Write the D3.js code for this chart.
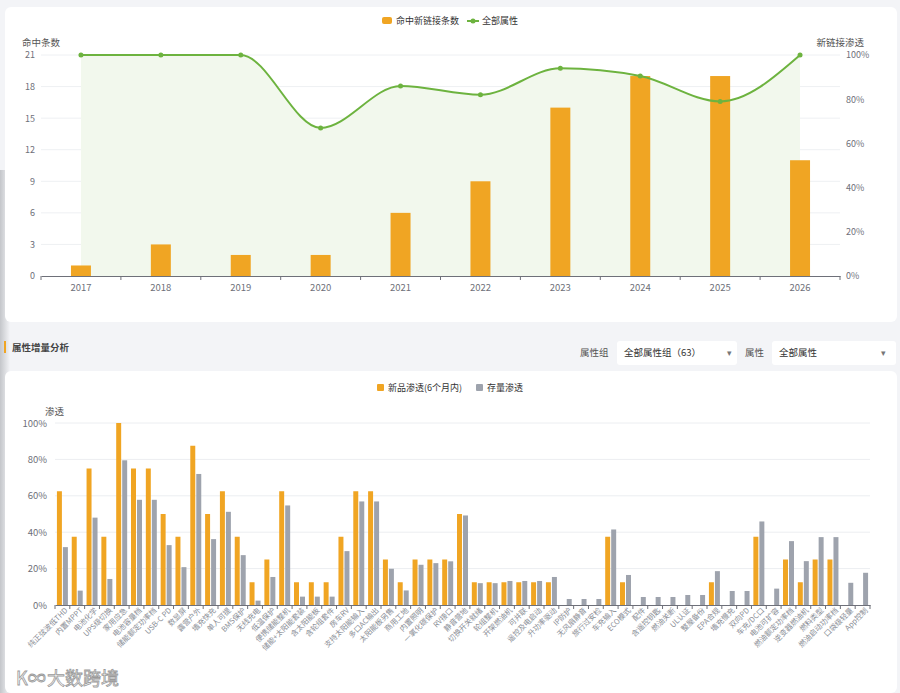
<!DOCTYPE html>
<html>
<head>
<meta charset="utf-8">
<script src="https://cdn.jsdelivr.net/npm/d3@7"></script>
<style>
body{margin:0;background:#f3f4f7;}
text{font-family:"Noto Sans CJK SC","Noto Sans",sans-serif;}
</style>
</head>
<body>
<div id="chart"></div>
<script>
var w=900;
var h=693;

// top chart data
var years=["2017","2018","2019","2020","2021","2022","2023","2024","2025","2026"];
var hitCounts=[1,3,2,2,6,9,16,19,19,11];
var linkShare=[100,100,100,67,86,82,94,90.5,79,100];
var countTicks=[0,3,6,9,12,15,18,21];
var shareTicks=[0,20,40,60,80,100];

// bottom chart data
var attrNames=["纯正弦波低THD","内置MPPT","电池化学","UPS级切换","家用应急","电池容量档","储能额定功率档","USB-C PD","数显屏","露营户外",
  "墙充快充","单人可提","BMS保护","无线充电","低温保护","便携储能整机","储能+太阳能套装","含太阳能板","含轮组套件","房车RV",
  "支持太阳能输入","多口AC输出","太阳能板另售","商用工地","内置照明","一氧化碳保护","RV接口","静音营地","切换开关就绪","轮组整机",
  "开架燃油机","可并联","遥控及电启动","升功率驱动","IP防护","无风扇静音","旅行过安检","车充输入","ECO模式","配件",
  "含遥控钥匙","燃油关断","UL认证","整屋备份","EPA合规","墙充慢充","双向PD","车充/DC口","电池可扩容","燃油额定功率档",
  "逆变器燃油机","燃料类型","燃油启动功率档","口袋级轻量","App控制"];
var newRate=[62.5,37.5,75,37.5,100,75,75,50,37.5,87.5,
  50,62.5,37.5,12.5,25,62.5,12.5,12.5,12.5,37.5,
  62.5,62.5,25,12.5,25,25,25,50,12.5,12.5,
  12.5,12.5,12.5,12.5,0,0,0,37.5,12.5,0,
  0,0,0,0,12.5,0,0,37.5,0,25,
  12.5,25,25,0,0];
var stockRate=[31.8,7.9,48,14.3,79.5,57.8,57.8,32.9,20.8,72,
  36.2,51.2,27.4,2.4,15.4,54.7,4.6,4.6,4.6,29.6,
  56.9,56.9,19.9,8,22.1,23,24,49.2,12,12,
  13.2,13.2,13.2,15.4,3.3,3.3,3.3,41.5,16.5,4.4,
  4.4,4.4,5.5,5.5,18.6,7.7,7.7,45.9,9,35.1,
  24.1,37.3,37.3,12.2,17.7];
var rateTicks=[0,20,40,60,80,100];

var orange="#f0a523";
var green="#6db33f";
var grey="#9ea3ad";
var axisCol="#6e7079";

var svg=d3.select("#chart")
  .append("svg")
  .attr("width",w)
  .attr("height",h);

var defs=svg.append("defs");
var shade=defs.append("linearGradient").attr("id","shade");
shade.append("stop").attr("offset","0").attr("stop-color","#c4c6ca");
shade.append("stop").attr("offset","1").attr("stop-color","#f3f4f7");

svg.append("rect").attr("width",w).attr("height",h).attr("fill","#f3f4f7");
svg.append("rect").attr("x",0).attr("y",170).attr("width",10).attr("height",523).attr("fill","url(#shade)");

// cards
svg.append("rect").attr("x",5).attr("y",7).attr("width",892).attr("height",315).attr("rx",6).attr("fill","#fff");
svg.append("rect").attr("x",5).attr("y",371).attr("width",892).attr("height",322).attr("rx",6).attr("fill","#fff");

//////////////////////////////////////////////// top chart
var x0=d3.scaleBand().domain(years).range([41,840]);
var yL=d3.scaleLinear().domain([0,21]).range([276,55]);
var yR=d3.scaleLinear().domain([0,100]).range([276,55]);
var topG=svg.append("g");

topG.selectAll(".grid")
  .data(countTicks.slice(1))
  .enter()
  .append("line")
  .attr("x1",41).attr("x2",840)
  .attr("y1",function(d){return yL(d);})
  .attr("y2",function(d){return yL(d);})
  .style("stroke","#eef0f3");

var cx=function(d,i){return x0(years[i])+x0.bandwidth()/2;};
var area=d3.area()
  .x(cx)
  .y0(yR(0))
  .y1(function(d){return yR(d);})
  .curve(d3.curveMonotoneX);
topG.append("path")
  .datum(linkShare)
  .attr("d",area)
  .attr("fill","#f2f8ed");

topG.selectAll(".bar")
  .data(hitCounts)
  .enter()
  .append("rect")
  .attr("x",function(d,i){return x0(years[i])+x0.bandwidth()*0.375;})
  .attr("width",x0.bandwidth()*0.25)
  .attr("y",function(d){return yL(d);})
  .attr("height",function(d){return yL(0)-yL(d);})
  .attr("fill",orange);

var line=d3.line()
  .x(cx)
  .y(function(d){return yR(d);})
  .curve(d3.curveMonotoneX);
topG.append("path")
  .datum(linkShare)
  .attr("d",line)
  .attr("fill","none")
  .attr("stroke",green)
  .attr("stroke-width",2);
topG.selectAll(".dot")
  .data(linkShare)
  .enter()
  .append("circle")
  .attr("cx",cx)
  .attr("cy",function(d){return yR(d);})
  .attr("r",2.5)
  .attr("fill",green);

var xAxisTop=topG.append("g")
  .attr("transform","translate(0,276)")
  .call(d3.axisBottom(x0).tickSize(0).tickPadding(8));
xAxisTop.select(".domain").attr("stroke",axisCol);
xAxisTop.selectAll("text").attr("fill",axisCol).style("font-size","9.5px");
topG.selectAll(".xtick")
  .data(years.map(function(d){return x0(d);}).concat([840]))
  .enter()
  .append("line")
  .attr("x1",function(d){return d;}).attr("x2",function(d){return d;})
  .attr("y1",276).attr("y2",280)
  .style("stroke",axisCol);

var yAxisL=topG.append("g")
  .attr("transform","translate(41,0)")
  .call(d3.axisLeft(yL).tickValues(countTicks).tickSize(0).tickPadding(6));
yAxisL.select(".domain").remove();
yAxisL.selectAll("text").attr("fill",axisCol).style("font-size","9px");

var yAxisR=topG.append("g")
  .attr("transform","translate(840,0)")
  .call(d3.axisRight(yR).tickValues(shareTicks).tickSize(0).tickPadding(6).tickFormat(function(d){return d+"%";}));
yAxisR.select(".domain").remove();
yAxisR.selectAll("text").attr("fill",axisCol).style("font-size","9px");

topG.append("text").attr("x",22).attr("y",46).text("命中条数").attr("fill","#555").style("font-size","9.5px");
topG.append("text").attr("x",864).attr("y",46).attr("text-anchor","end").text("新链接渗透").attr("fill","#555").style("font-size","9.5px");

// legend
topG.append("rect").attr("x",382).attr("y",17).attr("width",10).attr("height",7).attr("rx",2).attr("fill",orange);
topG.append("text").attr("x",396).attr("y",24).text("命中新链接条数").attr("fill","#333").style("font-size","9px");
topG.append("line").attr("x1",467).attr("x2",479).attr("y1",21).attr("y2",21).attr("stroke",green).attr("stroke-width",2);
topG.append("circle").attr("cx",473).attr("cy",21).attr("r",2.5).attr("fill",green);
topG.append("text").attr("x",482).attr("y",24).text("全部属性").attr("fill","#333").style("font-size","9px");

//////////////////////////////////////////////// section header + selects
svg.append("rect").attr("x",4).attr("y",341).attr("width",2).attr("height",12).attr("fill",orange);
svg.append("text").attr("x",12).attr("y",351).text("属性增量分析").attr("fill","#444").style("font-size","9.5px").style("font-weight","bold");

svg.append("text").attr("x",580).attr("y",356).text("属性组").attr("fill","#555").style("font-size","9.5px");
svg.append("rect").attr("x",617).attr("y",341).attr("width",120).attr("height",24).attr("rx",3).attr("fill","#fff");
svg.append("text").attr("x",624).attr("y",356).text("全部属性组（63）").attr("fill","#333").style("font-size","9.5px");
svg.append("text").attr("x",727).attr("y",356).text("▾").attr("fill","#777").style("font-size","9px");
svg.append("text").attr("x",745).attr("y",356).text("属性").attr("fill","#555").style("font-size","9.5px");
svg.append("rect").attr("x",772).attr("y",341).attr("width",124).attr("height",24).attr("rx",3).attr("fill","#fff");
svg.append("text").attr("x",779).attr("y",356).text("全部属性").attr("fill","#333").style("font-size","9.5px");
svg.append("text").attr("x",881).attr("y",356).text("▾").attr("fill","#777").style("font-size","9px");

//////////////////////////////////////////////// bottom chart
var xb=d3.scaleBand().domain(attrNames).range([55,870]);
var xs=d3.scaleBand().domain(["new","stock"]).range([0,xb.bandwidth()]).paddingInner(0.17).paddingOuter(0.32);
var yb=d3.scaleLinear().domain([0,100]).range([605,423]);
var bot=svg.append("g");

bot.selectAll(".grid")
  .data(rateTicks.slice(1))
  .enter()
  .append("line")
  .attr("x1",55).attr("x2",870)
  .attr("y1",function(d){return yb(d);})
  .attr("y2",function(d){return yb(d);})
  .style("stroke","#eceef1");

bot.selectAll(".newbar")
  .data(newRate)
  .enter()
  .append("rect")
  .attr("x",function(d,i){return xb(attrNames[i])+xs("new");})
  .attr("width",xs.bandwidth())
  .attr("y",function(d){return yb(d);})
  .attr("height",function(d){return yb(0)-yb(d);})
  .attr("fill",orange);

bot.selectAll(".stockbar")
  .data(stockRate)
  .enter()
  .append("rect")
  .attr("x",function(d,i){return xb(attrNames[i])+xs("stock");})
  .attr("width",xs.bandwidth())
  .attr("y",function(d){return yb(d);})
  .attr("height",function(d){return yb(0)-yb(d);})
  .attr("fill",grey);

var xAxisBot=bot.append("g")
  .attr("transform","translate(0,605)")
  .call(d3.axisBottom(xb).tickSize(0).tickPadding(6));
xAxisBot.select(".domain").attr("stroke",axisCol);
xAxisBot.selectAll("text")
  .attr("fill","#8a8e96")
  .style("font-size","7.5px")
  .attr("text-anchor","end")
  .attr("dy","0.3em")
  .attr("transform","rotate(-45)");
bot.selectAll(".xtick")
  .data(attrNames.map(function(d){return xb(d);}).concat([870]))
  .enter()
  .append("line")
  .attr("x1",function(d){return d;}).attr("x2",function(d){return d;})
  .attr("y1",605).attr("y2",609)
  .style("stroke",axisCol);

var yAxisB=bot.append("g")
  .attr("transform","translate(55,0)")
  .call(d3.axisLeft(yb).tickValues(rateTicks).tickSize(0).tickPadding(8).tickFormat(function(d){return d+"%";}));
yAxisB.select(".domain").remove();
yAxisB.selectAll("text").attr("fill",axisCol).style("font-size","9.5px");

bot.append("text").attr("x",45).attr("y",415).text("渗透").attr("fill","#555").style("font-size","9.5px");

bot.append("rect").attr("x",377).attr("y",384).attr("width",7).attr("height",7).attr("rx",1).attr("fill",orange);
bot.append("text").attr("x",388).attr("y",391).text("新品渗透(6个月内)").attr("fill","#333").style("font-size","9px");
bot.append("rect").attr("x",476).attr("y",384).attr("width",7).attr("height",7).attr("rx",1).attr("fill",grey);
bot.append("text").attr("x",487).attr("y",391).text("存量渗透").attr("fill","#333").style("font-size","9px");

// watermark
svg.append("text").attr("x",16).attr("y",685).text("K∞").attr("fill","#fff").attr("fill-opacity",0.8)
  .attr("stroke","#9a9a9a").attr("stroke-width",0.8).style("font-size","18px");
svg.append("text").attr("x",47).attr("y",685).text("大数跨境").attr("fill","#fff").attr("fill-opacity",0.8)
  .attr("stroke","#9a9a9a").attr("stroke-width",0.8).style("font-size","18px");
</script>
</body>
</html>
